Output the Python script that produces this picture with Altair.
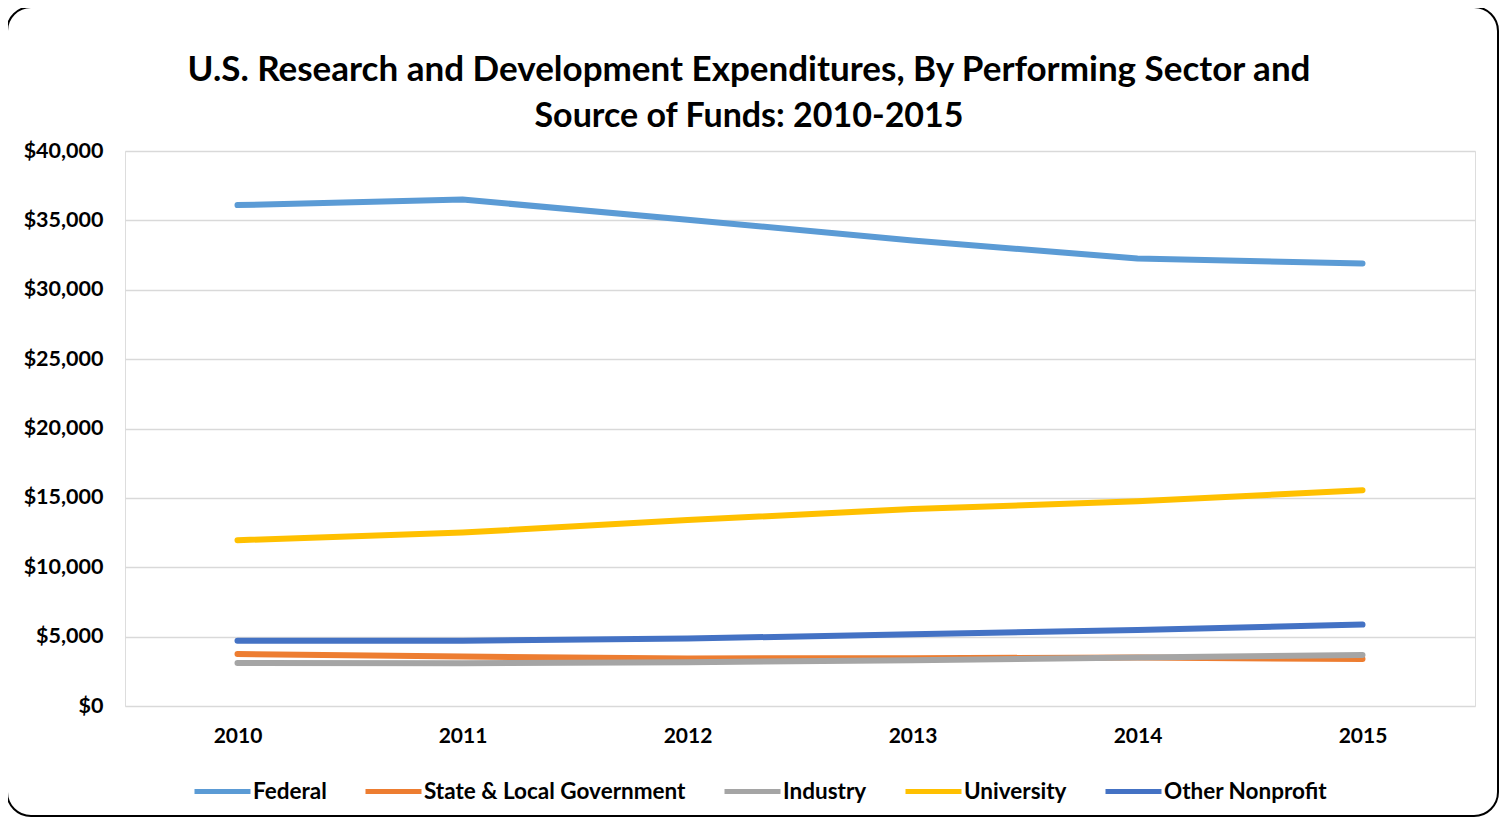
import altair as alt
import pandas as pd

years = ["2010", "2011", "2012", "2013", "2014", "2015"]
series = ["Federal", "State & Local Government", "Industry", "University", "Other Nonprofit"]
colors = ["#5B9BD5", "#ED7D31", "#A5A5A5", "#FFC000", "#4472C4"]
federal = [36100, 36500, 35050, 33550, 32250, 31900]
state_local = [3750, 3560, 3430, 3450, 3490, 3390]
industry = [3100, 3090, 3150, 3300, 3500, 3680]
university = [11950, 12500, 13400, 14200, 14750, 15550]
other_nonprofit = [4710, 4710, 4860, 5170, 5480, 5865]
y_ticks = [0, 5000, 10000, 15000, 20000, 25000, 30000, 35000, 40000]
title_lines = ["U.S. Research and Development Expenditures, By Performing Sector and",
               "Source of Funds: 2010-2015"]

values = [federal, state_local, industry, university, other_nonprofit]
rows = []
for i, (name, vals) in enumerate(zip(series, values)):
    for y, v in zip(years, vals):
        rows.append({"Year": y, "Sector": name, "Value": v, "order": i})
df = pd.DataFrame(rows)

FONT = "Lato"

lines = alt.Chart(df).mark_line(strokeWidth=6, strokeCap="round", strokeJoin="round").encode(
    x=alt.X("Year:N", sort=years,
            scale=alt.Scale(type="point", padding=0.5),
            axis=alt.Axis(title=None, labelAngle=0, ticks=False, domain=False, grid=False,
                          labelFontSize=21, labelFontWeight="bold", labelPadding=19,
                          labelColor="#000000", labelFont=FONT)),
    y=alt.Y("Value:Q", scale=alt.Scale(domain=[0, 40000], nice=False),
            axis=alt.Axis(title=None, values=y_ticks, format="$,.0f", ticks=False, domain=False,
                          grid=True, gridColor="#d9d9d9", gridWidth=1.5,
                          labelFontSize=21.5, labelFontWeight="bold", labelPadding=22,
                          labelColor="#000000", labelFont=FONT)),
    color=alt.Color("Sector:N", sort=series,
                    scale=alt.Scale(domain=series, range=colors),
                    legend=alt.Legend(title=None, orient="none", direction="horizontal",
                                      legendX=67, legendY=610, columns=5,
                                      symbolType="stroke", symbolSize=3136, symbolStrokeWidth=5,
                                      labelFontSize=22.5, labelFontWeight="bold", labelColor="#000000",
                                      labelFont=FONT, labelOffset=0, columnPadding=28,
                                      labelLimit=400)),
    order=alt.Order("order:Q"),
)

title_df = pd.DataFrame({"line": title_lines, "idx": [0, 1]})
title_1 = alt.Chart(title_df).transform_filter("datum.idx == 0").mark_text(
    font=FONT, fontSize=35, fontWeight="bold", color="#000000", align="center",
    baseline="alphabetic", clip=False
).encode(text="line:N", x=alt.value(624), y=alt.value(-70))
title_2 = alt.Chart(title_df).transform_filter("datum.idx == 1").mark_text(
    font=FONT, fontSize=34, fontWeight="bold", color="#000000", align="center",
    baseline="alphabetic", clip=False
).encode(text="line:N", x=alt.value(624), y=alt.value(-24))

border = alt.Chart(pd.DataFrame({"a": [0]})).mark_rect(
    fill=None, stroke="#000000", strokeWidth=2, cornerRadius=24, clip=False
).encode(
    x=alt.value(-118), x2=alt.value(1373), y=alt.value(-144), y2=alt.value(665)
)

chart = alt.layer(border, title_1, title_2, lines).properties(
    width=1350, height=555,
    padding={"left": 117, "top": 143, "right": 24, "bottom": 112},
    autosize=alt.AutoSizeParams(type="none"),
).configure_view(stroke=None).configure(background="white")

chart.save("out.html", embed_options={"renderer": "svg", "actions": False})
